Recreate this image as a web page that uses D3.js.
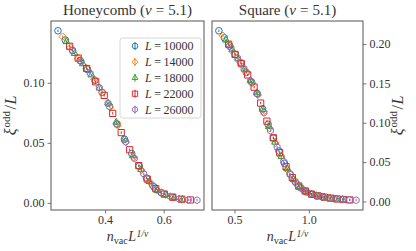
<!DOCTYPE html>
<html><head><meta charset="utf-8">
<script src="https://cdn.jsdelivr.net/npm/d3@7"></script>
<style>body{margin:0;background:#fff}svg{display:block}text{font-family:"Liberation Serif","DejaVu Serif",serif}</style>
</head><body><svg id="c" width="416" height="251"></svg>
<script>
// ---------- data ----------
const sizes = [10000, 14000, 18000, 22000, 26000];
const colors = ["#1f77b4", "#ff7f0e", "#2ca02c", "#d62728", "#9467bd"];
const shapes = ["circle", "diamond", "triangle", "square", "hexagon"];
const panelTitles = ["Honeycomb", "Square"];
const nuValue = "5.1";

// Honeycomb lattice: x = n_vac L^{1/nu}, y = xi^odd / L
const honeyX10000 = [0.239,0.264,0.289,0.315,0.340,0.365,0.390,0.415,0.441,0.466,0.491,0.516,0.541,0.567,0.592];
const honeyY10000 = [0.1433,0.1356,0.1268,0.1185,0.1110,0.1020,0.0920,0.0805,0.0655,0.0530,0.0410,0.0306,0.0207,0.0132,0.0085];
const honeyX14000 = [0.255,0.282,0.309,0.336,0.363,0.390,0.417,0.443,0.471,0.498,0.524,0.551,0.578,0.606,0.632];
const honeyY14000 = [0.1385,0.1293,0.1203,0.1122,0.1028,0.0920,0.0795,0.0645,0.0505,0.0379,0.0274,0.0177,0.0105,0.0069,0.0046];
const honeyX18000 = [0.268,0.296,0.324,0.353,0.381,0.410,0.438,0.466,0.495,0.523,0.551,0.579,0.607,0.636,0.664];
const honeyY18000 = [0.1342,0.1244,0.1158,0.1065,0.0956,0.0830,0.0672,0.0530,0.0392,0.0278,0.0177,0.0102,0.0068,0.0043,0.0030];
const honeyX22000 = [0.279,0.308,0.337,0.368,0.397,0.426,0.455,0.484,0.515,0.544,0.573,0.602,0.631,0.662,0.691];
const honeyY22000 = [0.1304,0.1206,0.1119,0.1008,0.0895,0.0745,0.0585,0.0442,0.0310,0.0198,0.0118,0.0073,0.0047,0.0030,0.0024];
const honeyX26000 = [0.288,0.318,0.349,0.380,0.410,0.440,0.470,0.500,0.532,0.562,0.592,0.622,0.652,0.684,0.714];
const honeyY26000 = [0.1272,0.1176,0.1079,0.0960,0.0830,0.0660,0.0510,0.0370,0.0242,0.0145,0.0085,0.0054,0.0034,0.0025,0.0022];
const honeyErr = [0.0010,0.0010,0.0010,0.0010,0.0010];

// Square lattice
const squareX10000 = [0.395,0.432,0.468,0.505,0.542,0.579,0.615,0.652,0.689,0.726,0.762,0.799,0.836,0.873,0.909,0.946,0.983,1.020,1.056,1.093];
const squareY10000 = [0.2168,0.2078,0.1976,0.1865,0.1763,0.1640,0.1515,0.1372,0.1176,0.0980,0.0804,0.0641,0.0486,0.0350,0.0249,0.0173,0.0122,0.0092,0.0073,0.0058];
const squareX14000 = [0.422,0.461,0.500,0.539,0.579,0.618,0.657,0.696,0.736,0.775,0.814,0.853,0.893,0.932,0.971,1.010,1.050,1.089,1.128,1.167];
const squareY14000 = [0.2105,0.1997,0.1880,0.1771,0.1640,0.1504,0.1352,0.1138,0.0930,0.0743,0.0577,0.0409,0.0291,0.0196,0.0135,0.0099,0.0076,0.0060,0.0047,0.0037];
const squareX18000 = [0.443,0.485,0.525,0.567,0.608,0.650,0.690,0.732,0.773,0.815,0.855,0.897,0.938,0.979,1.020,1.061,1.103,1.143,1.185,1.226];
const squareY18000 = [0.2049,0.1925,0.1810,0.1680,0.1535,0.1380,0.1170,0.0953,0.0753,0.0573,0.0414,0.0278,0.0186,0.0127,0.0092,0.0071,0.0055,0.0042,0.0033,0.0026];
const squareX22000 = [0.461,0.504,0.546,0.589,0.632,0.676,0.718,0.761,0.804,0.847,0.889,0.932,0.976,1.019,1.061,1.104,1.147,1.190,1.232,1.276];
const squareY22000 = [0.1997,0.1868,0.1750,0.1607,0.1452,0.1250,0.1020,0.0809,0.0620,0.0441,0.0303,0.0196,0.0133,0.0092,0.0071,0.0055,0.0042,0.0032,0.0025,0.0020];
const squareX26000 = [0.476,0.521,0.564,0.609,0.654,0.698,0.742,0.787,0.831,0.876,0.920,0.965,1.010,1.053,1.096,1.141,1.185,1.230,1.273,1.318];
const squareY26000 = [0.1952,0.1822,0.1687,0.1532,0.1363,0.1127,0.0900,0.0690,0.0507,0.0341,0.0223,0.0145,0.0099,0.0075,0.0057,0.0043,0.0033,0.0025,0.0020,0.0016];
const squareErr = [0.0015,0.0015,0.0015,0.0015,0.0015];

const honeyXTicks = [0.4, 0.6];
const honeyYTicks = [0.00, 0.05, 0.10];
const squareXTicks = [0.5, 1.0];
const squareYTicks = [0.00, 0.05, 0.10, 0.15, 0.20];

// ---------- build ----------
const honeySeries = [[honeyX10000,honeyY10000],[honeyX14000,honeyY14000],[honeyX18000,honeyY18000],[honeyX22000,honeyY22000],[honeyX26000,honeyY26000]];
const squareSeries = [[squareX10000,squareY10000],[squareX14000,squareY14000],[squareX18000,squareY18000],[squareX22000,squareY22000],[squareX26000,squareY26000]];

const panels = [
  {title: panelTitles[0], series: honeySeries, err: honeyErr, xt: honeyXTicks, yt: honeyYTicks, box:[51,204,21,210], side:"left", legend:true},
  {title: panelTitles[1], series: squareSeries, err: squareErr, xt: squareXTicks, yt: squareYTicks, box:[212,363,21,210], side:"right", legend:false}
];

const svg = d3.select("#c");
const axisCol = "#555", textCol = "#333";

function markerPath(shape) {
  const p = d3.path();
  if (shape === "circle") { p.arc(0,0,3.3,0,2*Math.PI); p.closePath(); }
  else if (shape === "diamond") { const r=3.7; p.moveTo(0,-r); p.lineTo(r,0); p.lineTo(0,r); p.lineTo(-r,0); p.closePath(); }
  else if (shape === "triangle") { const r=3.9; p.moveTo(0,-r); p.lineTo(r*0.866,r*0.5); p.lineTo(-r*0.866,r*0.5); p.closePath(); }
  else if (shape === "square") { const s=3.1; p.rect(-s,-s,2*s,2*s); }
  else { const r=3.4; for (let i=0;i<6;i++){ const a=Math.PI/6+i*Math.PI/3; const x=r*Math.cos(a), y=r*Math.sin(a); if(i===0)p.moveTo(x,y); else p.lineTo(x,y);} p.closePath(); }
  return p.toString();
}

function yLabel(g, x, y) {
  const t = g.append("text").attr("transform", `translate(${x},${y}) rotate(-90)`)
    .attr("text-anchor","middle").attr("font-size", 16).attr("fill", textCol);
  t.append("tspan").attr("font-style","italic").text("ξ");
  t.append("tspan").attr("font-size", 11).attr("dy", -6).attr("dx", 1).text("odd");
  t.append("tspan").attr("dy", 6).attr("dx", 1.5).text("/");
  t.append("tspan").attr("font-style","italic").attr("dx", 0.5).text("L");
}
function xLabel(g, x, y) {
  const t = g.append("text").attr("x", x).attr("y", y).attr("text-anchor","middle").attr("font-size", 14).attr("fill", textCol);
  t.append("tspan").attr("font-style","italic").text("n");
  t.append("tspan").attr("font-size", 10).attr("dy", 3).text("vac");
  t.append("tspan").attr("font-style","italic").attr("dy", -3).attr("dx", 0.5).text("L");
  t.append("tspan").attr("font-size", 9.5).attr("font-style","italic").attr("dy", -4.5).attr("dx", 0.5).text("1/ν");
}

panels.forEach((P) => {
  const [x0,x1,y0,y1] = P.box;
  const allX = P.series.flatMap(s => s[0]);
  const allY = P.series.flatMap(s => s[1]);
  const xe = d3.extent(allX), ye = d3.extent(allY);
  const e = d3.max(P.err);
  const ylo = ye[0]-e, yhi = ye[1]+e;
  const mx = (xe[1]-xe[0])*0.05, my = (yhi-ylo)*0.05;
  const x = d3.scaleLinear().domain([xe[0]-mx, xe[1]+mx]).range([x0,x1]);
  const y = d3.scaleLinear().domain([ylo-my, yhi+my]).range([y1,y0]);
  const g = svg.append("g");

  const cid = "clip" + x0;
  svg.append("clipPath").attr("id", cid).append("rect").attr("x",x0).attr("y",y0).attr("width",x1-x0).attr("height",y1-y0);

  const xa = g.append("g").attr("transform",`translate(0,${y1})`)
    .call(d3.axisBottom(x).tickValues(P.xt).tickFormat(d3.format(".1f")).tickSize(3.5).tickPadding(2));
  const ya = g.append("g").attr("transform",`translate(${P.side==="left"?x0:x1},0)`)
    .call((P.side==="left"?d3.axisLeft(y):d3.axisRight(y)).tickValues(P.yt).tickFormat(d3.format(".2f")).tickSize(3.5).tickPadding(3));
  [xa,ya].forEach(a => {
    a.select(".domain").remove();
    a.selectAll("line").attr("stroke", axisCol).attr("stroke-width", 0.8);
    a.selectAll("text").attr("font-size", 12).attr("fill", textCol).attr("font-family", '"Liberation Serif","DejaVu Serif",serif');
  });

  const dg = g.append("g").attr("clip-path", `url(#${cid})`);
  P.series.forEach((s, i) => {
    const pts = s[0].map((xv, k) => ({x: xv, y: s[1][k], e: P.err[i]}));
    const sg = dg.append("g");
    sg.selectAll("line").data(pts).join("line")
      .attr("x1", d => x(d.x)).attr("x2", d => x(d.x))
      .attr("y1", d => y(d.y - d.e)).attr("y2", d => y(d.y + d.e))
      .attr("stroke", colors[i]).attr("stroke-width", 1);
    sg.selectAll("path").data(pts).join("path")
      .attr("d", markerPath(shapes[i]))
      .attr("transform", d => `translate(${x(d.x)},${y(d.y)})`)
      .attr("fill", "none").attr("stroke", colors[i]).attr("stroke-width", 1);
  });

  g.append("rect").attr("x",x0).attr("y",y0).attr("width",x1-x0).attr("height",y1-y0)
    .attr("fill","none").attr("stroke",axisCol).attr("stroke-width",1);

  const cx = (x0+x1)/2;
  const tt = g.append("text").attr("x", cx).attr("y", 15).attr("text-anchor","middle").attr("font-size", 15).attr("fill", textCol);
  tt.append("tspan").text(P.title + " (");
  tt.append("tspan").attr("font-style","italic").text("ν");
  tt.append("tspan").attr("dx", 4).text("=");
  tt.append("tspan").attr("dx", 4).text(nuValue + ")");

  xLabel(g, cx, 241);
  if (P.side === "left") yLabel(g, 16, (y0+y1)/2); else yLabel(g, 403, (y0+y1)/2);

  if (P.legend) {
    const lg = g.append("g");
    lg.append("rect").attr("x",120).attr("y",38).attr("width",81).attr("height",80).attr("rx",2.5)
      .attr("fill","#fff").attr("fill-opacity",0.8).attr("stroke","#cccccc").attr("stroke-width",0.8);
    sizes.forEach((L, i) => {
      const cy = 46 + i*15.9;
      lg.append("line").attr("x1",135).attr("x2",135).attr("y1",cy-4).attr("y2",cy+4).attr("stroke",colors[i]).attr("stroke-width",1);
      lg.append("path").attr("d", markerPath(shapes[i])).attr("transform",`translate(135,${cy}) scale(0.85)`)
        .attr("fill","none").attr("stroke",colors[i]).attr("stroke-width",1.1);
      const t = lg.append("text").attr("x",145).attr("y",cy+4).attr("font-size",12).attr("fill",textCol);
      t.append("tspan").attr("font-style","italic").text("L");
      t.append("tspan").attr("dx", 2.5).text("=");
      t.append("tspan").attr("dx", 2.5).text(L);
    });
  }
});
</script></body></html>
